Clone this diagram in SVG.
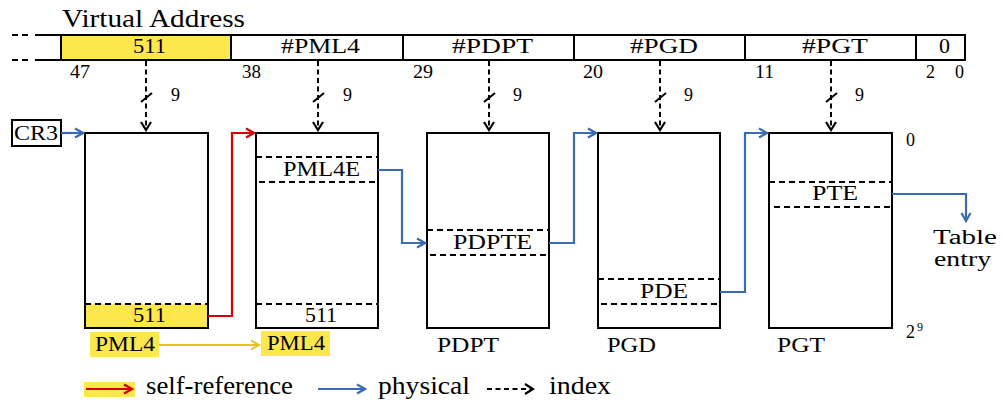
<svg xmlns="http://www.w3.org/2000/svg" width="1003" height="405" viewBox="0 0 1003 405">
<style>
text{font-family:"Liberation Serif","DejaVu Serif","Times New Roman",serif;fill:#000}
.lg{font-size:26px}
.te{font-size:20px}
.nm{font-size:22px}
.sm{font-size:18px}
.xs{font-size:12px}
.bg{fill:#fff;stroke:none}
.ol{fill:none;stroke:#000;stroke-width:2}
.dl{fill:none;stroke:#000;stroke-width:2;stroke-dasharray:6 4}
.yel{fill:#fce74c;stroke:none}
.phys{fill:none;stroke:#3b6cb2;stroke-width:2.2;marker-end:url(#mb)}
.self{fill:none;stroke:#d40000;stroke-width:2.2;marker-end:url(#mr)}
.gold{fill:none;stroke:#e6c31e;stroke-width:2;marker-end:url(#my)}
.idx{fill:none;stroke:#000;stroke-width:2;stroke-dasharray:5 3.5;marker-end:url(#mk)}
.tick{stroke:#000;stroke-width:2}
</style>
<defs>
<marker id="mb" viewBox="-11 -7 13 14" refX="0" refY="0" markerWidth="13" markerHeight="14" markerUnits="userSpaceOnUse" orient="auto"><path d="M-8,-4.5 L0,0 L-8,4.5" fill="none" stroke="#3b6cb2" stroke-width="2.2"/></marker>
<marker id="mr" viewBox="-11 -7 13 14" refX="0" refY="0" markerWidth="13" markerHeight="14" markerUnits="userSpaceOnUse" orient="auto"><path d="M-8,-4.5 L0,0 L-8,4.5" fill="none" stroke="#d40000" stroke-width="2.2"/></marker>
<marker id="my" viewBox="-11 -7 13 14" refX="0" refY="0" markerWidth="13" markerHeight="14" markerUnits="userSpaceOnUse" orient="auto"><path d="M-8,-4.5 L0,0 L-8,4.5" fill="none" stroke="#e6c31e" stroke-width="2"/></marker>
<marker id="mk" viewBox="-11 -7 13 14" refX="0" refY="0" markerWidth="13" markerHeight="14" markerUnits="userSpaceOnUse" orient="auto"><path d="M-8,-5 L0,0 L-8,5" fill="none" stroke="#000" stroke-width="2.2" stroke-dasharray="none"/></marker>
</defs>

<g id="virtual-address">
<text class="lg" x="62" y="27" textLength="183" lengthAdjust="spacingAndGlyphs">Virtual Address</text>
<rect class="yel" x="61" y="35" width="170" height="25"/>
<path class="dl" d="M12,35 H28 M12,60 H28"/>
<path class="ol" d="M35,35 H61 M35,60 H61"/>
<rect class="ol" x="61" y="35" width="904" height="25"/>
<path class="ol" d="M231,35 V60 M403,35 V60 M574,35 V60 M745,35 V60 M916,35 V60"/>
<text class="nm" x="133" y="53" textLength="33" lengthAdjust="spacingAndGlyphs">511</text>
<text class="nm" x="281" y="53" textLength="79" lengthAdjust="spacingAndGlyphs">#PML4</text>
<text class="nm" x="452" y="53" textLength="81" lengthAdjust="spacingAndGlyphs">#PDPT</text>
<text class="nm" x="630" y="53" textLength="68" lengthAdjust="spacingAndGlyphs">#PGD</text>
<text class="nm" x="802" y="53" textLength="66" lengthAdjust="spacingAndGlyphs">#PGT</text>
<text class="nm" x="939" y="53">0</text>
<text class="sm" x="70" y="78" textLength="20" lengthAdjust="spacingAndGlyphs">47</text>
<text class="sm" x="242" y="78" textLength="19" lengthAdjust="spacingAndGlyphs">38</text>
<text class="sm" x="413" y="78" textLength="20" lengthAdjust="spacingAndGlyphs">29</text>
<text class="sm" x="583" y="78" textLength="20" lengthAdjust="spacingAndGlyphs">20</text>
<text class="sm" x="755" y="78" textLength="19" lengthAdjust="spacingAndGlyphs">11</text>
<text class="sm" x="926" y="78">2</text>
<text class="sm" x="955" y="78">0</text>
</g>

<g id="cr3">
<rect class="ol" x="12" y="120" width="49" height="26" fill="#fff"/>
<text class="nm" x="14" y="140" textLength="44" lengthAdjust="spacingAndGlyphs">CR3</text>
</g>

<g id="pml4">
<rect class="bg" x="85" y="133" width="123" height="195"/>
<rect class="yel" x="85" y="304" width="123" height="24"/>
<path class="dl" d="M85,304 H208"/>
<rect class="ol" x="85" y="133" width="123" height="195"/>
<text class="nm" x="133" y="322" textLength="33" lengthAdjust="spacingAndGlyphs">511</text>
<rect class="yel" x="90" y="332" width="69" height="25"/>
<text class="nm" x="95" y="351" textLength="60" lengthAdjust="spacingAndGlyphs">PML4</text>
</g>

<g id="pml4-self">
<rect class="bg" x="256" y="133" width="122" height="195"/>
<rect class="dl" x="256" y="157" width="122" height="25"/>
<path class="dl" d="M256,304 H378"/>
<rect class="ol" x="256" y="133" width="122" height="195"/>
<text class="nm" x="283" y="176" textLength="77" lengthAdjust="spacingAndGlyphs">PML4E</text>
<text class="nm" x="305" y="322" textLength="32" lengthAdjust="spacingAndGlyphs">511</text>
<rect class="yel" x="261" y="331" width="69" height="25"/>
<text class="nm" x="267" y="350" textLength="58" lengthAdjust="spacingAndGlyphs">PML4</text>
</g>

<g id="pdpt">
<rect class="bg" x="427" y="133" width="122" height="195"/>
<rect class="dl" x="427" y="230" width="122" height="25"/>
<rect class="ol" x="427" y="133" width="122" height="195"/>
<text class="nm" x="453" y="249" textLength="79" lengthAdjust="spacingAndGlyphs">PDPTE</text>
<text class="nm" x="437" y="352" textLength="62" lengthAdjust="spacingAndGlyphs">PDPT</text>
</g>

<g id="pgd">
<rect class="bg" x="598" y="133" width="122" height="195"/>
<rect class="dl" x="598" y="279" width="122" height="25"/>
<rect class="ol" x="598" y="133" width="122" height="195"/>
<text class="nm" x="640" y="298" textLength="48" lengthAdjust="spacingAndGlyphs">PDE</text>
<text class="nm" x="607" y="352" textLength="49" lengthAdjust="spacingAndGlyphs">PGD</text>
</g>

<g id="pgt">
<rect class="bg" x="769" y="133" width="123" height="195"/>
<rect class="dl" x="769" y="182" width="123" height="25"/>
<rect class="ol" x="769" y="133" width="123" height="195"/>
<text class="nm" x="812" y="200" textLength="46" lengthAdjust="spacingAndGlyphs">PTE</text>
<text class="nm" x="777" y="352" textLength="48" lengthAdjust="spacingAndGlyphs">PGT</text>
<text class="sm" x="906" y="146">0</text>
<text class="sm" x="906" y="338">2</text>
<text class="xs" x="917" y="331">9</text>
</g>

<g id="table-entry">
<text class="te" x="933" y="244" textLength="64" lengthAdjust="spacingAndGlyphs">Table</text>
<text class="te" x="934" y="266" textLength="57" lengthAdjust="spacingAndGlyphs">entry</text>
</g>

<g id="connectors">
<path class="idx" d="M146,61 V130"/>
<path class="idx" d="M318,61 V130"/>
<path class="idx" d="M489,61 V130"/>
<path class="idx" d="M660,61 V130"/>
<path class="idx" d="M831,61 V130"/>
<path class="tick" d="M141,102 L152,93 M313,102 L324,93 M484,102 L495,93 M655,102 L666,93 M826,102 L837,93"/>
<text class="sm" x="171" y="101">9</text>
<text class="sm" x="343" y="101">9</text>
<text class="sm" x="513" y="101">9</text>
<text class="sm" x="684" y="101">9</text>
<text class="sm" x="855" y="101">9</text>
<path class="phys" d="M61,133 H83"/>
<path class="self" d="M208,316 H232 V133 H254"/>
<path class="phys" d="M378,170 H402 V243 H425"/>
<path class="phys" d="M549,243 H574 V133 H596"/>
<path class="phys" d="M720,292 H745 V133 H767"/>
<path class="phys" d="M892,194 H966 V221"/>
<path class="gold" d="M159,345 H259"/>
</g>

<g id="legend">
<rect class="yel" x="84" y="382" width="51" height="15"/>
<path class="self" d="M86,389 H132"/>
<text class="lg" x="146" y="394" textLength="147" lengthAdjust="spacingAndGlyphs">self-reference</text>
<path class="phys" d="M318,389 H365"/>
<text class="lg" x="378" y="394" textLength="92" lengthAdjust="spacingAndGlyphs">physical</text>
<path class="idx" d="M487,389 H533"/>
<text class="lg" x="549" y="394" textLength="62" lengthAdjust="spacingAndGlyphs">index</text>
</g>
</svg>
